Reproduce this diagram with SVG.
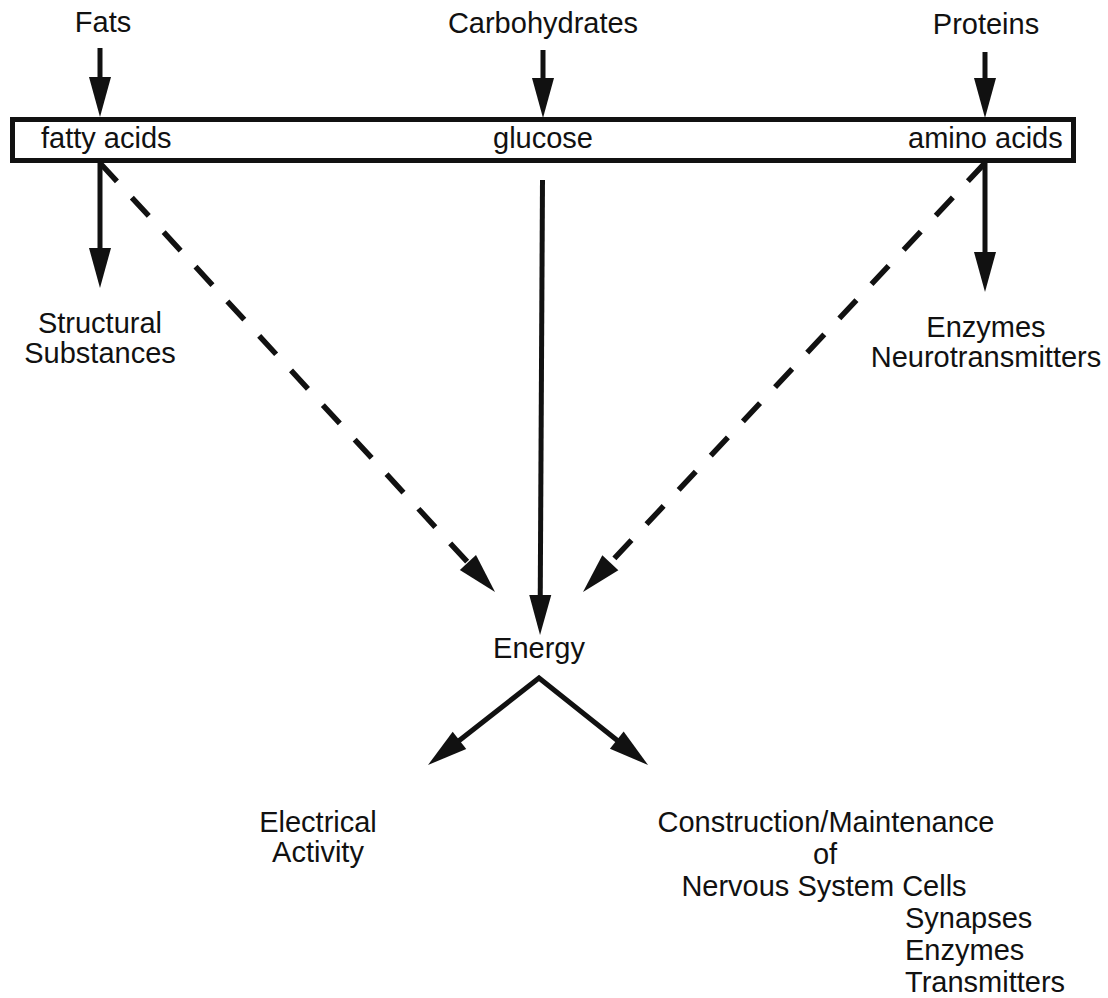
<svg xmlns="http://www.w3.org/2000/svg" width="1108" height="998" viewBox="0 0 1108 998">
  <style>
    text { font-family: "Liberation Sans", Arial, Helvetica, sans-serif; font-size: 29px; fill: #111; }
    .mid { text-anchor: middle; }
    .solid { stroke: #111; stroke-width: 5; fill: none; marker-end: url(#head); }
    .dash { stroke: #111; stroke-width: 5.5; fill: none; stroke-dasharray: 25 22; marker-end: url(#head); }
  </style>
  <defs>
    <marker id="head" markerUnits="userSpaceOnUse" viewBox="-2 -13 44 26" markerWidth="44" markerHeight="26" refX="10" refY="0" orient="auto-start-reverse">
      <path d="M0,-11 L40,0 L0,11 Z" fill="#111"/>
    </marker>
  </defs>

  <rect width="1108" height="998" fill="#ffffff"/>

  <!-- nutrient sources -->
  <g id="fats"><text class="mid" x="103" y="32">Fats</text></g>
  <g id="carbohydrates"><text class="mid" x="543" y="33">Carbohydrates</text></g>
  <g id="proteins"><text class="mid" x="986" y="34">Proteins</text></g>

  <!-- breakdown products bar -->
  <g id="products">
    <rect x="12.5" y="119.5" width="1061" height="41" fill="none" stroke="#111" stroke-width="5"/>
    <text x="41" y="148">fatty acids</text>
    <text class="mid" x="543" y="148">glucose</text>
    <text x="908" y="148">amino acids</text>
  </g>

  <g id="structural">
    <text class="mid" x="100" y="333">Structural</text>
    <text class="mid" x="100" y="363">Substances</text>
  </g>
  <g id="enzymes-neuro">
    <text class="mid" x="986" y="337">Enzymes</text>
    <text class="mid" x="986" y="367">Neurotransmitters</text>
  </g>
  <g id="energy"><text class="mid" x="539" y="658">Energy</text></g>
  <g id="electrical">
    <text class="mid" x="318" y="832">Electrical</text>
    <text class="mid" x="318" y="862">Activity</text>
  </g>
  <g id="construction">
    <text class="mid" x="826" y="832">Construction/Maintenance</text>
    <text class="mid" x="825" y="864">of</text>
    <text class="mid" x="824" y="896">Nervous System Cells</text>
    <text x="905" y="928">Synapses</text>
    <text x="905" y="960">Enzymes</text>
    <text x="905" y="992">Transmitters</text>
  </g>

  <!-- connectors -->
  <g id="connectors">
    <line class="solid" x1="100" y1="48" x2="100" y2="87"/>
    <line class="solid" x1="543" y1="50" x2="543" y2="88"/>
    <line class="solid" x1="985" y1="52" x2="985" y2="88"/>
    <line class="solid" x1="100" y1="163" x2="100" y2="258"/>
    <line class="solid" x1="985" y1="163" x2="985" y2="262"/>
    <line class="solid" x1="542.5" y1="180" x2="540.2" y2="605"/>
    <line class="dash" x1="100" y1="163" x2="474.7" y2="569.9"/>
    <line class="dash" x1="985" y1="163" x2="603.5" y2="570.1"/>
    <path d="M451.6,746.5 L539,678 L624.6,746.3" stroke="#111" stroke-width="5" fill="none" stroke-linejoin="miter" marker-start="url(#head)" marker-end="url(#head)"/>
  </g>
</svg>
